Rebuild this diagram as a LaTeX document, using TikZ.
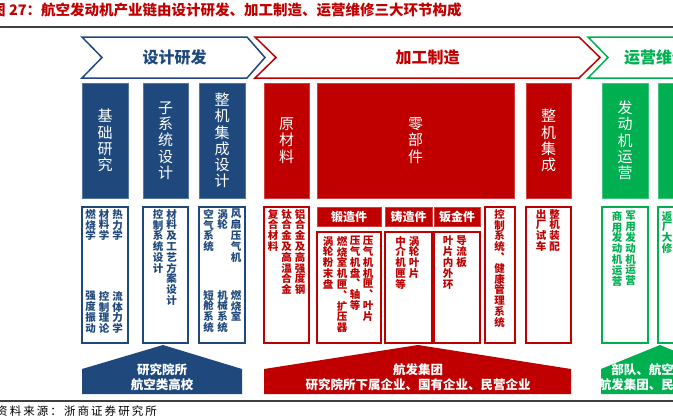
\documentclass[tikz,border=0pt]{standalone}
\usepackage{fontspec}
\setmainfont{Noto Sans CJK SC}
\newfontfamily\srcfont[LetterSpace=18]{Noto Sans CJK SC}

\definecolor{dsblue}{RGB}{31,73,125}
\definecolor{mkred}{RGB}{192,0,0}
\definecolor{opgreen}{RGB}{0,176,80}
\definecolor{rulegray}{RGB}{64,64,64}

% one character per line
\makeatletter
\newcommand\vtxt[1]{\edef\vt@list{#1}\let\vt@out\@empty\let\vt@sep\@empty
  \expandafter\@tfor\expandafter\vt@c\expandafter:\expandafter=\vt@list\do{%
    \edef\vt@out{\unexpanded\expandafter{\vt@out}\vt@sep\vt@c}\def\vt@sep{\noexpand\\}}%
  \vt@out}
\makeatother

\begin{document}
\lineskiplimit=-20pt
\begin{tikzpicture}[x=1pt, y=-1pt,
  phase/.style={draw=#1, line width=1.5, fill=white},
  phasetext/.style={text=#1, inner sep=0, font=\fontsize{16}{18}\selectfont\bfseries},
  topbox/.style={fill=#1, draw=#1!75!white, line width=0.6, minimum height=115, inner sep=0,
    text=white, align=center, font=\fontsize{15}{16.3}\selectfont},
  lowbox/.style={draw=#1, line width=1.1, fill=white, minimum height=136, inner sep=0},
  headbox/.style={fill=mkred, draw=mkred!75!white, line width=0.6, text=white, minimum height=19,
    inner sep=0, font=\fontsize{12}{14}\selectfont\bfseries},
  col/.style={text=#1, anchor=north, inner sep=0, align=center,
    font=\fontsize{10.5}{10.8}\selectfont\bfseries\addfontfeature{RawFeature=+vert}},
  org/.style={text=white, align=center, inner sep=0, font=\fontsize{12.5}{15}\selectfont\bfseries},
]
\useasboundingbox (0,0) rectangle (673,418);
\clip (0,0) rectangle (673,418);

% title
\node[anchor=west, text=mkred, inner sep=0, font=\fontsize{14.5}{16}\selectfont\bfseries] (title) at (-9,10)
  {图 27：航空发动机产业链由设计研发、加工制造、运营维修三大环节构成};
\draw[rulegray, line width=1.2] (0,27) -- (673,27);

% phases
\draw[phase=dsblue] (82,37) -- (247,37) -- (265,57.5) -- (247,78) -- (82,78) -- (102,57.5) -- cycle;
\draw[phase=mkred] (255,37) -- (579,37) -- (600,57.5) -- (579,78) -- (255,78) -- (276,57.5) -- cycle;
\draw[phase=opgreen] (588,37) -- (760,37) -- (780,57.5) -- (760,78) -- (588,78) -- (608,57.5) -- cycle;
\node[phasetext=dsblue] (design) at (174.5,57.5) {设计研发};
\node[phasetext=mkred] (make) at (427.5,57.5) {加工制造};
\node[phasetext=opgreen, anchor=west] (operate) at (624,57.5) {运营维修};

% top boxes
\node[topbox=dsblue, minimum width=46] (basic) at (105,140.5) {\vtxt{基础研究}};
\node[topbox=dsblue, minimum width=45] (subsys) at (165.5,140.5) {\vtxt{子系统设计}};
\node[topbox=dsblue, minimum width=46] (whole) at (222,140.5) {\vtxt{整机集成设计}};
\node[topbox=mkred, minimum width=45] (raw) at (286.5,140.5) {\vtxt{原材料}};
\node[topbox=mkred, minimum width=197] (parts) at (415.5,140.5) {\vtxt{零部件}};
\node[topbox=mkred, minimum width=45] (assy) at (548.5,140.5) {\vtxt{整机集成}};
\node[topbox=opgreen, minimum width=46] (run) at (625,140.5) {\vtxt{发动机运营}};
\node[topbox=opgreen, minimum width=46] (mro) at (681,140.5) {\vtxt{维修保障}};

% lower boxes
\node[lowbox=dsblue, minimum width=46] (basicL) at (105,275) {};
\node[lowbox=dsblue, minimum width=45] (subsysL) at (165.5,275) {};
\node[lowbox=dsblue, minimum width=46] (wholeL) at (222,275) {};
\node[lowbox=mkred, minimum width=45] (rawL) at (286.5,275) {};
\node[headbox, minimum width=64] (forgeH) at (349,216.5) {锻造件};
\node[headbox, minimum width=47] (castH) at (408.5,216.5) {铸造件};
\node[headbox, minimum width=46] (sheetH) at (457,216.5) {钣金件};
\node[lowbox=mkred, minimum width=64, minimum height=111] (forgeL) at (349,287.5) {};
\node[lowbox=mkred, minimum width=47, minimum height=111] (castL) at (408.5,287.5) {};
\node[lowbox=mkred, minimum width=46, minimum height=111] (sheetL) at (457,287.5) {};
\node[lowbox=mkred, minimum width=30] (ctrlL) at (500,275) {};
\node[lowbox=mkred, minimum width=45] (assyL) at (548.5,275) {};
\node[lowbox=opgreen, minimum width=46] (runL) at (625,275) {};
\node[lowbox=opgreen, minimum width=46] (mroL) at (681,275) {};

% columns, read from right to left
\foreach \x/\w [count=\i] in {117.5/热力学, 104/材料学, 90.5/燃烧学}
  \node[col=dsblue] (ba\i) at (\x,209) {\vtxt{\w}};
\foreach \x/\w [count=\i] in {117.5/流体力学, 104/控制理论, 90.5/强度振动}
  \node[col=dsblue] (bb\i) at (\x,291) {\vtxt{\w}};
\foreach \x/\w [count=\i] in {171.5/材料及工艺方案设计, 158/控制系统设计}
  \node[col=dsblue] (sa\i) at (\x,209) {\vtxt{\w}};
\foreach \x/\w [count=\i] in {236/风扇压气机, 222.5/涡轮, 208.5/空气系统}
  \node[col=dsblue] (wa\i) at (\x,209) {\vtxt{\w}};
\foreach \x/\w [count=\i] in {236/燃烧室, 222.5/机械系统, 208.5/短舱系统}
  \node[col=dsblue] (wb\i) at (\x,290) {\vtxt{\w}};
\foreach \x/\w [count=\i] in {300/铝合金及高强度钢, 286.5/钛合金及高温合金, 273/复合材料}
  \node[col=mkred] (ra\i) at (\x,209) {\vtxt{\w}};
\foreach \x/\w [count=\i] in {368/压气机机匣、叶片, 355/压气机盘、轴等, 342/燃烧室机匣、扩压器, 328/涡轮粉末盘}
  \node[col=mkred] (fa\i) at (\x,236) {\vtxt{\w}};
\foreach \x/\w [count=\i] in {414/涡轮叶片, 400.5/中介机匣等}
  \node[col=mkred] (ca\i) at (\x,236) {\vtxt{\w}};
\foreach \x/\w [count=\i] in {461.5/导流板, 448/叶片内外环}
  \node[col=mkred] (sh\i) at (\x,236) {\vtxt{\w}};
\node[col=mkred] (ct1) at (499.5,209) {\vtxt{控制系统、健康管理系统}};
\foreach \x/\w [count=\i] in {554.5/整机装配, 541/出厂试车}
  \node[col=mkred] (as\i) at (\x,209) {\vtxt{\w}};
\foreach \x/\w [count=\i] in {630.5/军用发动机运营, 617/商用发动机运营}
  \node[col=opgreen] (ga\i) at (\x,211) {\vtxt{\w}};
\node[col=opgreen] (gb1) at (667,211) {\vtxt{返厂大修}};

% who does it
\fill[dsblue] (82,394) -- (82,369) -- (163,345) -- (242,369) -- (242,394) -- cycle;
\fill[mkred] (264,394) -- (264,369) -- (418,345) -- (571,369) -- (571,394) -- cycle;
\fill[opgreen] (601,394) -- (601,369) -- (660,345) -- (718,369) -- (718,394) -- cycle;
\node[org] (orgblue) at (162,377) {研究院所\\航空类高校};
\node[org] (orgred) at (418,377) {航发集团\\研究院所下属企业、国有企业、民营企业};
\node[org] (orggreen) at (655,377) {部队、航空公司\\航发集团、民营企业};

% source
\draw[rulegray, line width=1.2] (0,401) -- (673,401);
\node[anchor=west, inner sep=0, font=\srcfont\fontsize{11.5}{13}\selectfont] (source) at (-4,411)
  {资料来源：浙商证券研究所};
\end{tikzpicture}
\end{document}
